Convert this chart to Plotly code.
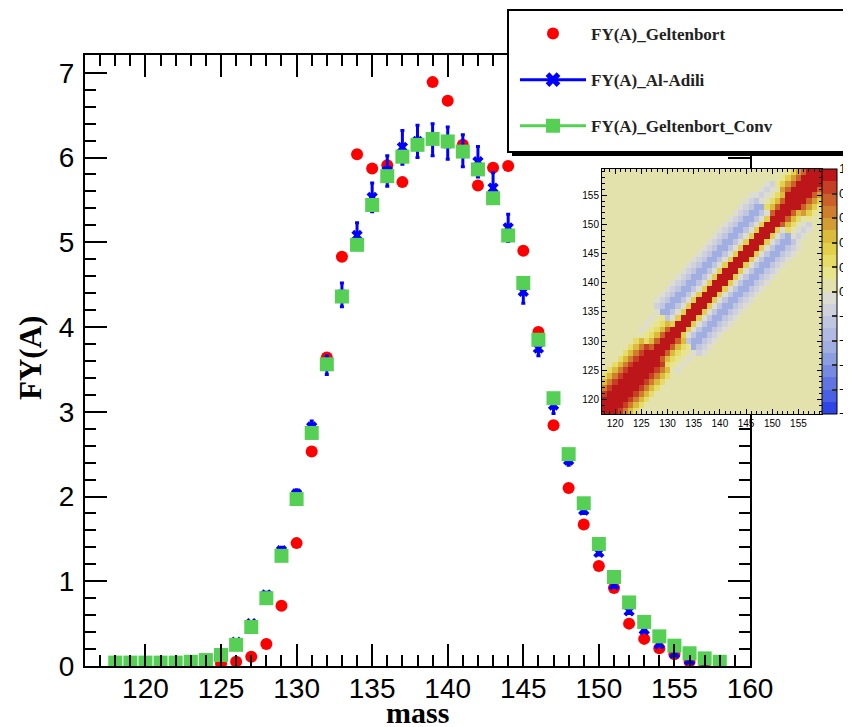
import plotly.graph_objects as go

# ---------------- data ----------------
mass = list(range(118, 159))

fy_geltenbort = [0.0, 0.0, 0.0, 0.0, 0.0, 0.01, 0.01, 0.03, 0.05, 0.11,
                 0.26, 0.71, 1.45, 2.53, 3.64, 4.83, 6.04, 5.87, 5.91, 5.71,
                 6.15, 6.89, 6.67, 6.15, 5.67, 5.88, 5.90, 4.90, 3.94, 2.84,
                 2.10, 1.67, 1.18, 0.92, 0.50, 0.32, 0.21, 0.14, 0.05, 0.01,
                 0.0]

fy_aladili = [0.0, 0.0, 0.0, 0.0, 0.01, 0.03, 0.06, 0.15, 0.28, 0.50,
              0.84, 1.36, 2.03, 2.82, 3.55, 4.38, 5.08, 5.53, 5.84, 6.12,
              6.19, 6.21, 6.17, 6.08, 5.95, 5.64, 5.17, 4.42, 3.75, 3.08,
              2.43, 1.84, 1.34, 0.96, 0.65, 0.43, 0.26, 0.15, 0.07, 0.01,
              0.0]

fy_aladili_err = [0.01, 0.01, 0.01, 0.01, 0.01, 0.01, 0.01, 0.02, 0.02, 0.02,
                  0.03, 0.04, 0.05, 0.07, 0.11, 0.14, 0.15, 0.17, 0.18, 0.20,
                  0.19, 0.19, 0.19, 0.19, 0.18, 0.18, 0.16, 0.14, 0.09, 0.10,
                  0.06, 0.04, 0.03, 0.03, 0.03, 0.03, 0.02, 0.02, 0.02, 0.02,
                  0.02]

fy_geltenbort_conv = [0.04, 0.04, 0.04, 0.04, 0.04, 0.05, 0.07, 0.13, 0.25, 0.46,
                      0.80, 1.30, 1.97, 2.75, 3.56, 4.36, 4.97, 5.44, 5.78, 6.01,
                      6.15, 6.22, 6.19, 6.07, 5.86, 5.52, 5.08, 4.52, 3.85, 3.16,
                      2.50, 1.92, 1.44, 1.05, 0.75, 0.52, 0.35, 0.24, 0.15, 0.09,
                      0.05]

# correlation matrix (inset): band profiles vs. |offset|
corr_mass = list(range(118, 160))
corr_background = 0.04
region_upper_mid = [127.5, 131.5, 150.5, 153.5, 999]
profile_low_wide = [1.0, 0.96, 0.92, 0.82, 0.62, 0.42, 0.22, 0.08]
profile_low_trans = [1.0, 0.95, 0.75, 0.48, 0.26, 0.12, 0.02, -0.04, 0.02]
profile_middle = [1.0, 0.9, 0.32, -0.05, -0.3, -0.45, -0.45, -0.3, -0.12, -0.03]
profile_high_trans = [1.0, 0.95, 0.75, 0.48, 0.26, 0.08, -0.06, -0.1, -0.04]
profile_high_wide = [1.0, 0.96, 0.90, 0.78, 0.58, 0.38, 0.18, 0.07]
profiles = [profile_low_wide, profile_low_trans, profile_middle,
            profile_high_trans, profile_high_wide]

colorbar_ticks = [-1, -0.8, -0.6, -0.4, -0.2, 0, 0.2, 0.4, 0.6, 0.8, 1]
colorbar_labels = ["\u22121", "\u22120.8", "\u22120.6", "\u22120.4", "\u22120.2",
                   "0", "0.2", "0.4", "0.6", "0.8", "1"]
palette = ["#2f45e6", "#4a60e4", "#6075e2", "#768ae2", "#8c9de2",
           "#a1aee2", "#b0bae2", "#c0c6e0", "#cfd2dc", "#dcdcd2",
           "#e3e2ac", "#e9e38c", "#e6dc66", "#e2cf4a", "#dbbb3c",
           "#d49c34", "#cf7e2e", "#cb6028", "#c63e24", "#bc161b"]

# ---------------- build correlation table ----------------
z = []
for mi in corr_mass:
    row = []
    for mj in corr_mass:
        mid = (mi + mj) / 2.0
        d = abs(mi - mj)
        k = 0
        while mid > region_upper_mid[k]:
            k += 1
        prof = profiles[k]
        row.append(prof[d] if d < len(prof) else corr_background)
    z.append(row)

n = len(palette)
colorscale = []
for i, c in enumerate(palette):
    colorscale.append([i / n, c])
    colorscale.append([(i + 1) / n, c])

W, H = 851, 727
OFF = 8  # page body margin: figure sits 8 px right/down in the window


def fx(px):  # page pixel x -> paper fraction
    return (px - OFF) / W


def fy(py):  # page pixel y -> paper fraction
    return 1 - (py - OFF) / H


SANS = "Liberation Sans, Arial, Helvetica, sans-serif"
SERIF = "Liberation Serif, Times New Roman, serif"

# colour bar geometry (page pixels)
CB_LEFT, CB_W, CB_TOP, CB_BOTTOM = 822, 15, 169, 414
CB_MID = (CB_TOP + CB_BOTTOM) / 2
CB_HALF = (CB_BOTTOM - CB_TOP) / 2

fig = go.Figure()

fig.add_trace(go.Scatter(
    x=mass, y=fy_geltenbort, mode="markers", name="FY(A)_Geltenbort",
    marker=dict(symbol="circle", size=12, color="#ff0000"),
    showlegend=True, legendgroup="g1", xaxis="x", yaxis="y"))

fig.add_trace(go.Scatter(
    x=mass, y=fy_aladili, mode="markers", name="FY(A)_Al-Adili",
    marker=dict(symbol="x", size=10, color="#0000ff"),
    error_y=dict(type="data", array=fy_aladili_err, color="#0000ff",
                 thickness=3, width=2),
    showlegend=False, xaxis="x", yaxis="y"))

fig.add_trace(go.Scatter(
    x=mass, y=fy_geltenbort_conv, mode="markers", name="FY(A)_Geltenbort_Conv",
    marker=dict(symbol="square", size=14, color="#55d055"),
    showlegend=False, xaxis="x", yaxis="y"))

# legend-only entries (line + marker, like the ROOT legend)
fig.add_trace(go.Scatter(
    x=[None], y=[None], mode="lines+markers", name="FY(A)_Al-Adili",
    line=dict(color="#0000ff", width=3),
    marker=dict(symbol="x", size=13, color="#0000ff"),
    legendgroup="g2", xaxis="x", yaxis="y"))
fig.add_trace(go.Scatter(
    x=[None], y=[None], mode="lines+markers", name="FY(A)_Geltenbort_Conv",
    line=dict(color="#55d055", width=3),
    marker=dict(symbol="square", size=14, color="#55d055"),
    legendgroup="g3", xaxis="x", yaxis="y"))

fig.add_trace(go.Heatmap(
    x=corr_mass, y=corr_mass, z=z, zmin=-1, zmax=1,
    colorscale=colorscale, xaxis="x2", yaxis="y2", showscale=True,
    colorbar=dict(
        x=fx(CB_LEFT), xanchor="left", y=fy(CB_MID), yanchor="middle",
        thickness=CB_W, thicknessmode="pixels", len=CB_BOTTOM - CB_TOP,
        lenmode="pixels", xpad=0, ypad=0, outlinewidth=1,
        outlinecolor="black", tickvals=colorbar_ticks,
        ticks="inside", ticklen=5, tickcolor="#333", tickwidth=2,
        showticklabels=False),
    hoverinfo="skip"))

main_axis = dict(
    showline=True, linecolor="black", linewidth=2, mirror="ticks",
    ticks="inside", ticklen=22, tickwidth=2, tickcolor="black",
    showgrid=False, zeroline=False, automargin=False,
    tickfont=dict(family=SANS, size=28, color="black"),
)

inset_axis = dict(
    range=[117.5, 159.5], tick0=120, dtick=5, showline=True,
    linecolor="black", linewidth=1, mirror="ticks", ticks="inside",
    ticklen=5, tickcolor="black", showgrid=False, zeroline=False,
    automargin=False,
    minor=dict(dtick=1, ticklen=3, ticks="inside", tickcolor="black"),
    tickfont=dict(family=SANS, size=10, color="black"),
)

annotations = [
    dict(text="mass", xref="paper", yref="paper",
         x=(fx(85) + fx(750)) / 2, y=fy(712), xanchor="center",
         yanchor="middle", showarrow=False,
         font=dict(family=SERIF, size=30, color="black", weight="bold")),
    dict(text="FY(A)", xref="paper", yref="paper", textangle=-90,
         x=fx(30), y=fy(358), xanchor="center", yanchor="middle",
         showarrow=False,
         font=dict(family=SERIF, size=31, color="black", weight="bold")),
]
# colour-bar labels, placed by their tick values along the bar
for v, lab in zip(colorbar_ticks, colorbar_labels):
    annotations.append(dict(
        text=lab, xref="paper", yref="paper",
        x=fx(CB_LEFT + CB_W + 1), y=fy(CB_MID - v * CB_HALF),
        xanchor="left", yanchor="middle", showarrow=False, borderpad=0,
        font=dict(family=SANS, size=13, color="black")))

fig.update_layout(
    width=W, height=H, autosize=False,
    margin=dict(l=0, r=0, t=0, b=0, pad=0, autoexpand=False),
    paper_bgcolor="white", plot_bgcolor="white",
    xaxis=dict(main_axis, domain=[fx(85), fx(750)], range=[116, 160],
               tick0=120, dtick=5, anchor="y", ticklabelstandoff=-4,
               minor=dict(dtick=1, ticklen=11, tickwidth=2, ticks="inside",
                          tickcolor="black")),
    yaxis=dict(main_axis, domain=[fy(666), fy(55)], range=[0, 7.21],
               tick0=0, dtick=1, anchor="x", ticklabelstandoff=3,
               minor=dict(dtick=0.2, ticklen=11, tickwidth=2, ticks="inside",
                          tickcolor="black")),
    xaxis2=dict(inset_axis, domain=[fx(602), fx(822)], anchor="y2"),
    yaxis2=dict(inset_axis, domain=[fy(414), fy(169)], anchor="x2"),
    legend=dict(x=fx(515), xanchor="left", y=fy(16), yanchor="top",
                bgcolor="rgba(0,0,0,0)", borderwidth=0,
                itemwidth=66, tracegroupgap=21,
                font=dict(family=SERIF, size=17, color="#222", weight="bold"),
                traceorder="grouped"),
    annotations=annotations,
    shapes=[
        # legend shadow + frame
        dict(type="rect", xref="paper", yref="paper",
             x0=fx(512), x1=fx(852), y0=fy(156), y1=fy(14),
             fillcolor="black", line=dict(width=0), layer="above"),
        dict(type="rect", xref="paper", yref="paper",
             x0=fx(508), x1=fx(846), y0=fy(152), y1=fy(10),
             fillcolor="white", line=dict(color="black", width=2),
             layer="above"),
    ],
)

fig.write_html("out.html")
